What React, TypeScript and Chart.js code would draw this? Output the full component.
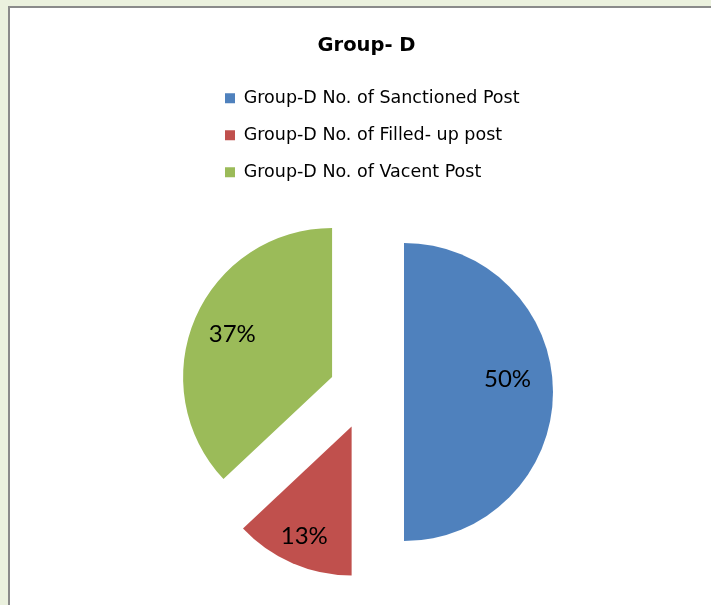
import React, { useEffect, useRef } from "react";
import { Chart, registerables } from "chart.js";

Chart.register(...registerables);

const chartTitle = "Group- D";
const categories = [
  "Group-D No. of Sanctioned Post",
  "Group-D No. of Filled- up post",
  "Group-D No. of Vacent Post",
];
const values = [50, 13, 37];
const colors = ["#4F81BD", "#C0504D", "#9BBB59"];

const FONT = "'DejaVu Sans', 'Open Sans', sans-serif";
const LABEL_FONT = "Lato, 'Open Sans', sans-serif";
const EXPLODE = 37.5;
const LABEL_FACTORS = [0.7, 0.8, 0.73];

const explodePlugin = {
  id: "explodeSlices",
  beforeDatasetDraw(chart: any, args: any) {
    const meta = chart.getDatasetMeta(args.index);
    meta.data.forEach((arc: any) => {
      if (arc.__exploded) return;
      const orig = arc.draw;
      arc.draw = function (ctx: CanvasRenderingContext2D) {
        const mid = (this.startAngle + this.endAngle) / 2;
        ctx.save();
        ctx.translate(Math.cos(mid) * EXPLODE, Math.sin(mid) * EXPLODE);
        orig.call(this, ctx);
        ctx.restore();
      };
      arc.__exploded = true;
    });
  },
};

const pctLabelPlugin = {
  id: "pctLabels",
  afterDatasetsDraw(chart: any) {
    const ctx = chart.ctx;
    const ds = chart.data.datasets[0];
    const data = ds.data as number[];
    const total = data.reduce((a, b) => a + b, 0);
    const meta = chart.getDatasetMeta(0);
    ctx.save();
    ctx.font = `24px ${LABEL_FONT}`;
    ctx.fillStyle = "#000";
    ctx.textAlign = "center";
    ctx.textBaseline = "middle";
    meta.data.forEach((arc: any, i: number) => {
      const { x, y, startAngle, endAngle, outerRadius } = arc.getProps(
        ["x", "y", "startAngle", "endAngle", "outerRadius"],
        true
      );
      const half = (startAngle + endAngle) / 2;
      // the first label sits slightly before its slice's mid angle, like the original
      const mid = half - (i === 0 ? 0.12 : 0);
      const cx = x + Math.cos(half) * EXPLODE;
      const cy = y + Math.sin(half) * EXPLODE;
      const d = outerRadius * LABEL_FACTORS[i];
      const label = Math.round((data[i] / total) * 100) + "%";
      ctx.fillText(label, cx + Math.cos(mid) * d, cy + Math.sin(mid) * d);
    });
    ctx.restore();
  },
};

export default function App() {
  const ref = useRef<HTMLCanvasElement | null>(null);
  useEffect(() => {
    if (!ref.current) return;
    const chart = new Chart(ref.current, {
      type: "pie",
      data: {
        labels: categories,
        datasets: [
          {
            data: values,
            backgroundColor: colors,
            borderWidth: 0,
          },
        ],
      },
      options: {
        animation: false,
        responsive: false,
        maintainAspectRatio: false,
        radius: 149,
        layout: { padding: { left: 205.5, right: 183.5, top: 10, bottom: 12 } },
        plugins: {
          title: {
            display: true,
            text: chartTitle,
            color: "#000",
            font: { family: FONT, size: 19.5, weight: "bold" },
            padding: { top: 24, bottom: 12.6 },
          },
          legend: {
            display: true,
            position: "top",
            align: "start",
            fullSize: false,
            labels: {
              color: "#000",
              font: { family: FONT, size: 17.5 },
              boxWidth: 10,
              boxHeight: 10,
              padding: 19.5,
            },
          },
          tooltip: { enabled: false },
        },
      } as any,
      plugins: [explodePlugin, pctLabelPlugin],
    });
    return () => chart.destroy();
  }, []);

  return (
    <div style={{ position: "fixed", left: 0, top: 0, width: 711, height: 605, background: "#EBF1DE", overflow: "hidden" }}>
      <div
        style={{
          position: "absolute",
          left: 8,
          top: 6,
          width: 760,
          height: 660,
          background: "#FFFFFF",
          borderLeft: "2px solid #8A8A8A",
          borderTop: "2px solid #8A8A8A",
        }}
      />
      <canvas ref={ref} width={711} height={605} style={{ position: "absolute", left: 0, top: 0 }} />
    </div>
  );
}
